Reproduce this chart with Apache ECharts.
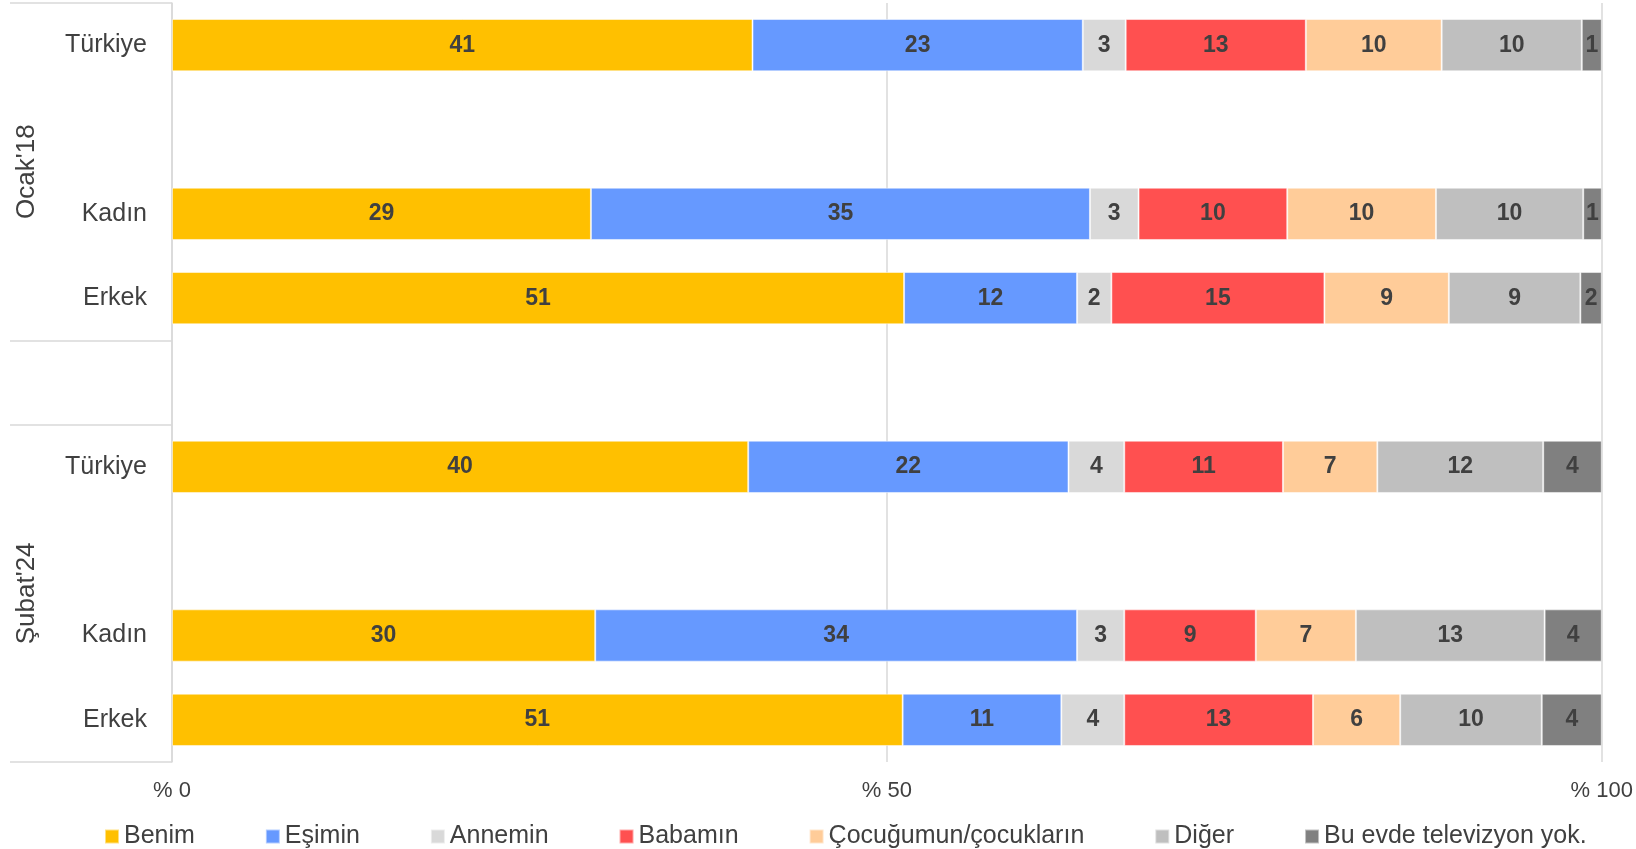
<!DOCTYPE html>
<html lang="tr">
<head>
	<meta charset="UTF-8">
	<title>Televizyon kumandası</title>
	<style type="text/css">
	body,html{
		width: 100%;
		height: 100%;
		margin: 0;
		padding: 0;
		background: #fff;
	}
	#container{
		width: 1636px;
		height: 849px;
	}
	</style>
</head>
<body>
<div id="container"></div>
<script type="text/javascript" src="https://cdn.jsdelivr.net/npm/echarts@6/dist/echarts.min.js"></script>
<script type="text/javascript">
	// satirlar ustten alta, bos olanlar gruplar arasi bosluk
	var categories = ['Türkiye', '', 'Kadın', 'Erkek', '', 'Türkiye', '', 'Kadın', 'Erkek'];
	var groupNames = ["Ocak'18", "Şubat'24"];
	var groupCenters = [2, 7];
	var groupBounds = [0, 4, 5, 9];
	var xTicks = [0, 50, 100];

	var seriesNames = ['Benim', 'Eşimin', 'Annemin', 'Babamın', 'Çocuğumun/çocukların', 'Diğer', 'Bu evde televizyon yok.'];
	var colors = ['#FFC000', '#6699FF', '#D9D9D9', '#FF5050', '#FFCC99', '#BFBFBF', '#808080'];

	var benim   = [40.6, '-', 29.3, 51.2, '-', 40.3, '-', 29.6, 51.1];
	var esimin  = [23.1, '-', 34.9, 12.1, '-', 22.4, '-', 33.7, 11.1];
	var annemin = [3.0,  '-', 3.4,  2.4,  '-', 3.9,  '-', 3.3,  4.4];
	var babamin = [12.6, '-', 10.4, 14.9, '-', 11.1, '-', 9.2,  13.2];
	var cocuk   = [9.5,  '-', 10.4, 8.7,  '-', 6.6,  '-', 7.0,  6.1];
	var diger   = [9.8,  '-', 10.3, 9.2,  '-', 11.6, '-', 13.2, 9.9];
	var tvYok   = [1.4,  '-', 1.3,  1.5,  '-', 4.1,  '-', 4.0,  4.2];

	var values = [benim, esimin, annemin, babamin, cocuk, diger, tvYok];

	var font = 'Liberation Sans';
	var series = seriesNames.map(function (name, i) {
		return {
			name: name,
			type: 'bar',
			stack: 'total',
			barCategoryGap: '38%',
			itemStyle: {
				color: colors[i],
				borderColor: 'rgba(255,255,255,0.5)',
				borderWidth: 1
			},
			label: {
				show: true,
				position: 'inside',
				color: '#404040',
				fontFamily: font,
				fontWeight: 'bold',
				fontSize: 23,
				formatter: function (p) {
					return Math.round(p.value);
				}
			},
			emphasis: { disabled: true },
			data: values[i]
		};
	});

	var option = {
		backgroundColor: '#fff',
		animation: false,
		color: colors,
		grid: {
			left: 172,
			right: 34,
			top: 3,
			bottom: 87
		},
		legend: {
			data: seriesNames,
			left: 99,
			top: 819,
			icon: 'rect',
			itemWidth: 14,
			itemHeight: 14,
			itemGap: 70,
			textStyle: {
				color: '#404040',
				fontFamily: font,
				fontSize: 25
			}
		},
		xAxis: {
			type: 'value',
			min: 0,
			max: 100,
			interval: 50,
			axisLine: { show: false },
			axisTick: { show: false },
			splitLine: {
				lineStyle: { color: '#D9D9D9', width: 1.5 }
			},
			axisLabel: {
				margin: 18,
				color: '#404040',
				fontFamily: font,
				fontSize: 22,
				formatter: function (v) {
					return xTicks.indexOf(v) >= 0 ? '% ' + v : '';
				}
			}
		},
		yAxis: [{
			type: 'category',
			inverse: true,
			data: categories,
			axisLine: {
				lineStyle: { color: '#D9D9D9', width: 1.5 }
			},
			axisTick: { show: false },
			axisLabel: {
				margin: 25,
				color: '#404040',
				fontFamily: font,
				fontSize: 25
			}
		}, {
			// grup etiketleri ve ayirici cizgiler
			type: 'value',
			position: 'left',
			inverse: true,
			min: 0,
			max: 9,
			axisLine: { show: false },
			splitLine: { show: false },
			axisTick: {
				show: true,
				length: 162,
				customValues: groupBounds,
				lineStyle: { color: '#D9D9D9', width: 1.5 }
			},
			axisLabel: {
				show: true,
				customValues: groupCenters,
				rotate: 90,
				margin: 132,
				color: '#404040',
				fontFamily: font,
				fontSize: 26,
				formatter: function (v) {
					return groupNames[groupCenters.indexOf(v)];
				}
			}
		}],
		series: series
	};

	var chart = echarts.init(document.getElementById('container'));
	chart.setOption(option);
	window.addEventListener('resize', function () {
		chart.resize();
	});
</script>
</body>
</html>
